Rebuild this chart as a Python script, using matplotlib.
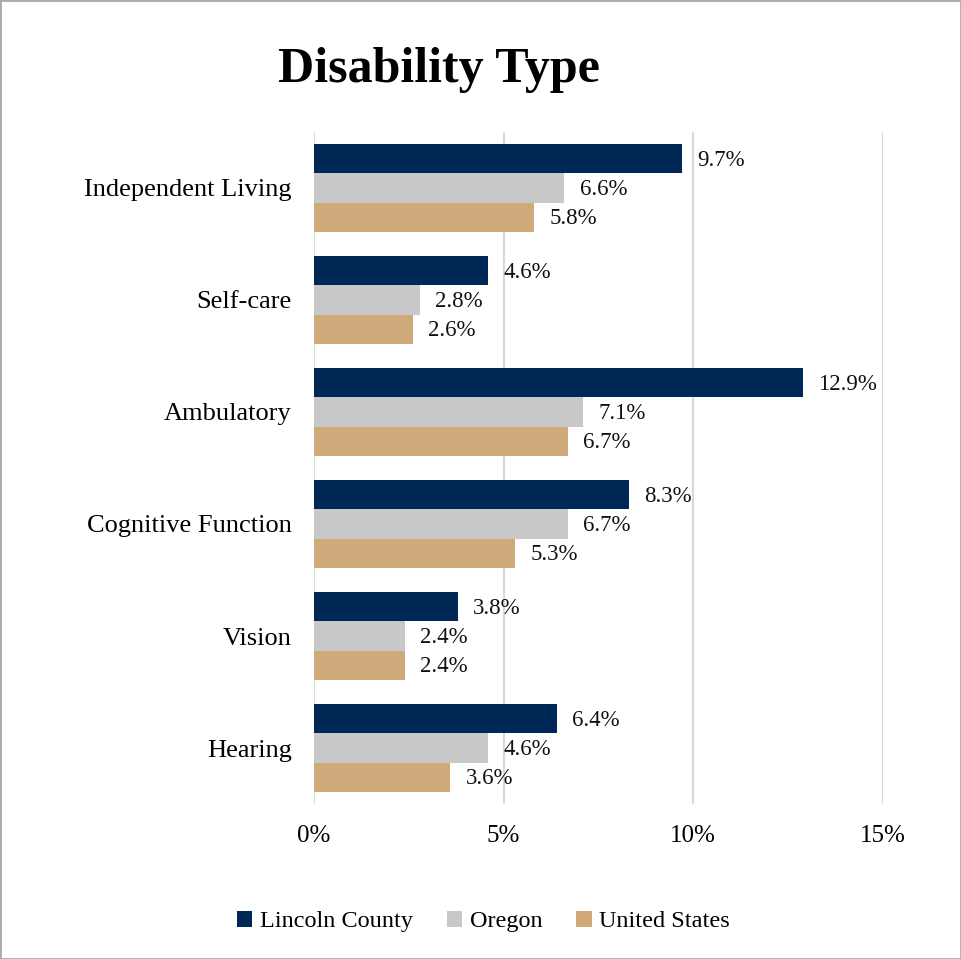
import matplotlib.pyplot as plt
import numpy as np
from matplotlib.patches import Rectangle

categories = ["Independent Living", "Self-care", "Ambulatory",
              "Cognitive Function", "Vision", "Hearing"]
lincoln = [9.7, 4.6, 12.9, 8.3, 3.8, 6.4]
oregon = [6.6, 2.8, 7.1, 6.7, 2.4, 4.6]
united_states = [5.8, 2.6, 6.7, 5.3, 2.4, 3.6]
series_names = ["Lincoln County", "Oregon", "United States"]
colors = ["#002857", "#C8C8C8", "#D0A97A"]
xticks = [0, 5, 10, 15]

plt.rcParams['font.family'] = ['Liberation Serif', 'DejaVu Serif']

fig = plt.figure(figsize=(9.61, 9.59), dpi=100)
ax = fig.add_axes([0.3267, 0.1616, 0.592, 0.7008])

y = np.arange(len(categories))
h = 0.262
for i, (vals, name, c) in enumerate(zip([lincoln, oregon, united_states], series_names, colors)):
    pos = y + (i - 1) * h
    ax.barh(pos, vals, height=h, color=c, label=name, zorder=3)
    for p, v in zip(pos, vals):
        ax.annotate(f"{v:.1f}%", (v, p), xytext=(11, -1), textcoords="offset points",
                    va="center", ha="left", fontsize=16.5, color="#111111")

ax.set_ylim(len(categories) - 0.5, -0.5)
ax.set_xlim(0, 15)
ax.set_yticks(y)
ax.set_yticklabels(categories, fontsize=19)
ax.set_xticks(xticks)
ax.set_xticklabels([f"{t}%" for t in xticks], fontsize=18)
ax.tick_params(length=0)
ax.tick_params(axis='y', pad=16)
ax.tick_params(axis='x', pad=15)
for s in ax.spines.values():
    s.set_visible(False)
ax.grid(axis='x', color='#D9D9D9', linewidth=1.5, zorder=0)

fig.text(0.457, 0.927, "Disability Type", ha="center", va="center",
         fontsize=36, fontweight="bold")

fig.legend(loc="center", bbox_to_anchor=(0.503, 0.039), ncol=3, frameon=False,
           fontsize=17.5, handlelength=0.65, handleheight=0.65, handletextpad=0.3,
           columnspacing=1.4)

fig.patches.append(Rectangle((0, 0), 1, 1, transform=fig.transFigure, fill=False,
                             edgecolor="#AAAAAA", linewidth=2))

fig.savefig("out.png", dpi=100)
